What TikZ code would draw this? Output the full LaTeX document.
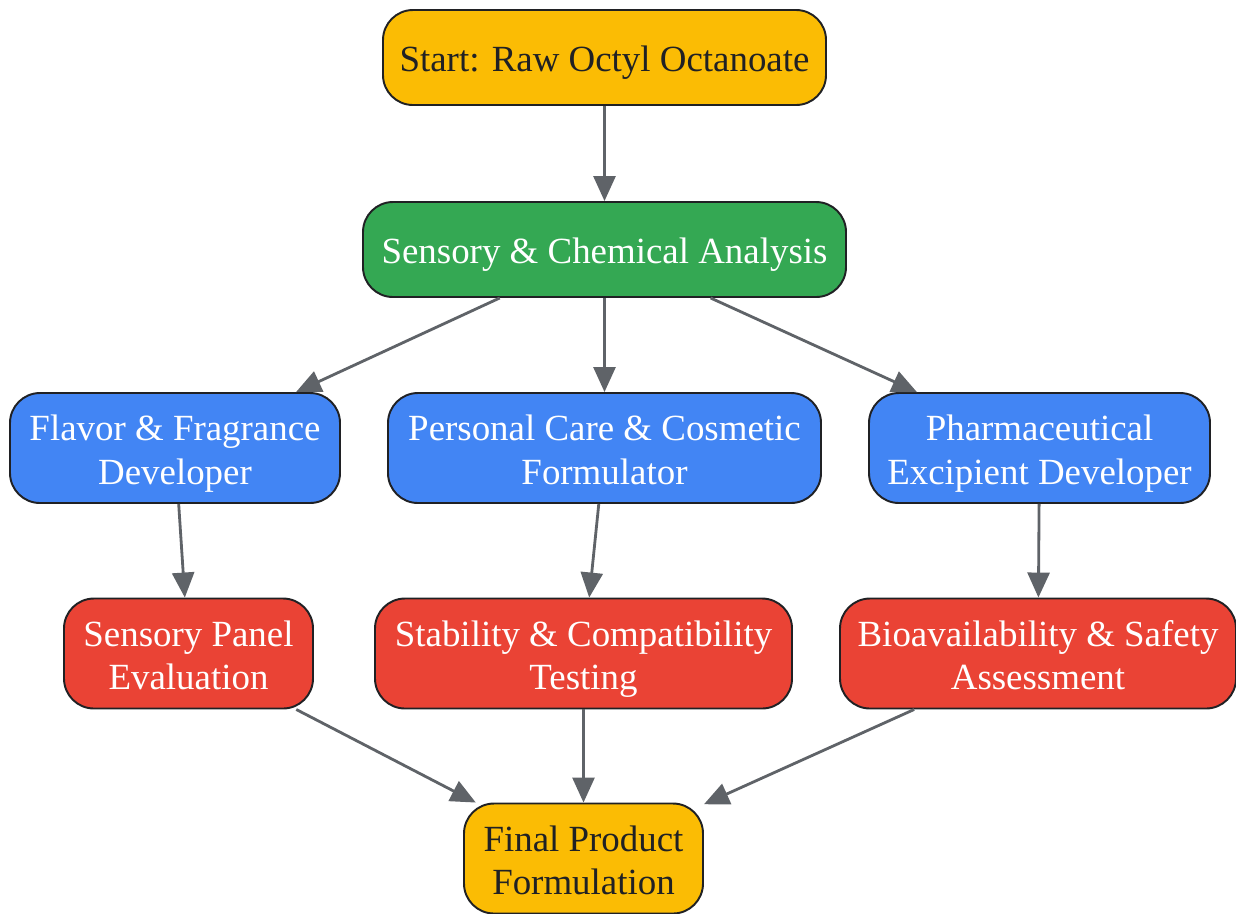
\documentclass[tikz,border=0pt]{standalone}
\usepackage{fontspec}
\setmainfont{Liberation Serif}
\usepackage{xcolor}
\usepackage{tikz}
\usetikzlibrary{shapes,arrows.meta,positioning,calc}

\definecolor{gyellow}{HTML}{FBBC04}
\definecolor{ggreen}{HTML}{34A853}
\definecolor{gblue}{HTML}{4285F4}
\definecolor{gred}{HTML}{EA4335}
\definecolor{gink}{HTML}{202124}
\definecolor{ggray}{HTML}{5F6368}

\begin{document}
\begin{tikzpicture}[
    font=\fontsize{21}{25}\selectfont,
    box/.style={rectangle, draw=gink, line width=1.1pt, rounded corners=0.6cm, align=center, inner sep=0pt, minimum height=2.2cm, text height=46pt, text depth=4.5pt},
    oneline/.style={minimum height=1.9cm, text height=21pt, text depth=5pt},
    terminal/.style={box, fill=gyellow, text=gink},
    analysis/.style={box, oneline, fill=ggreen, text=white},
    role/.style={box, fill=gblue, text=white},
    test/.style={box, fill=gred, text=white},
    flow/.style={-{Triangle[length=0.5cm, width=0.44cm]}, line width=1.6pt, ggray}
]
    \useasboundingbox (0,0) rectangle (24.72,-18.26);

    % Start and analysis
    \node[terminal, oneline, minimum width=8.86cm] (start) at (12.09,-1.15) {Start: Raw Octyl Octanoate};
    \node[analysis, minimum width=9.66cm] (anal) at (12.09,-4.99) {Sensory \& Chemical Analysis};

    % Developer roles
    \node[role, minimum width=6.6cm] (flavor) at (3.5,-8.96) {Flavor \& Fragrance\\Developer};
    \node[role, minimum width=8.66cm] (care) at (12.09,-8.96) {Personal Care \& Cosmetic\\Formulator};
    \node[role, minimum width=6.82cm] (pharma) at (20.79,-8.96) {Pharmaceutical\\Excipient Developer};

    % Testing
    \node[test, minimum width=4.98cm] (panel) at (3.77,-13.07) {Sensory Panel\\Evaluation};
    \node[test, minimum width=8.34cm] (stab) at (11.67,-13.07) {Stability \& Compatibility\\Testing};
    \node[test, minimum width=7.92cm] (bio) at (20.76,-13.07) {Bioavailability \& Safety\\Assessment};

    % Final
    \node[terminal, minimum width=4.78cm] (final) at (11.67,-17.17) {Final Product\\Formulation};

    % Flow
    \draw[flow] (start) -- (anal);
    \draw[flow] (anal) -- (flavor);
    \draw[flow] (anal) -- (care);
    \draw[flow] (anal) -- (pharma);
    \draw[flow] (flavor) -- (panel);
    \draw[flow] (care) -- (stab);
    \draw[flow] (pharma) -- (bio);
    \draw[flow] (panel) -- (final);
    \draw[flow] (stab) -- (final);
    \draw[flow] (bio) -- (final);
\end{tikzpicture}
\end{document}
